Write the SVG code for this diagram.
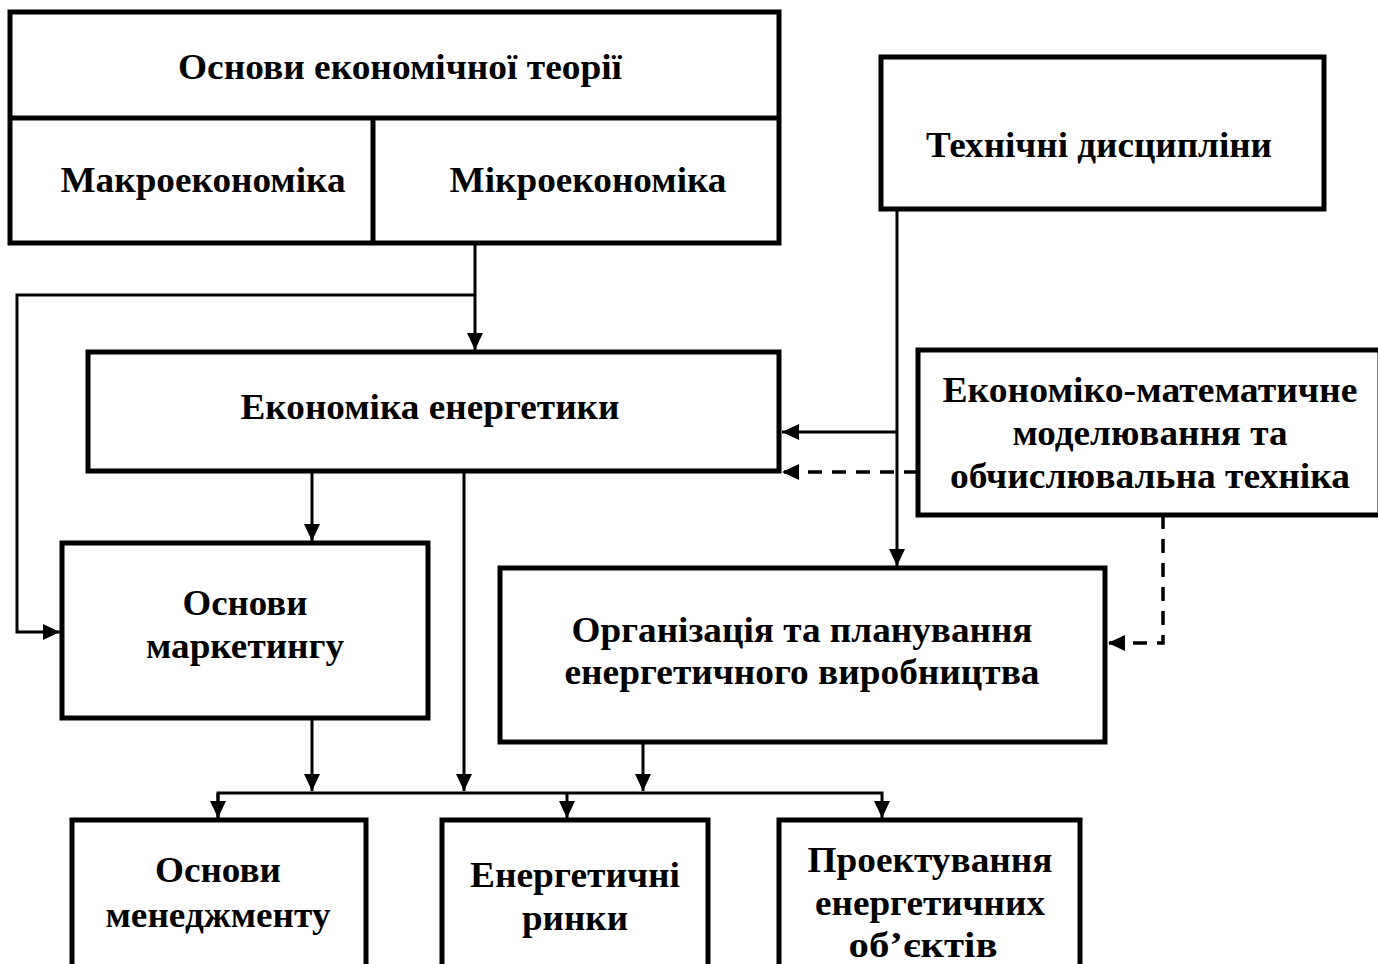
<svg xmlns="http://www.w3.org/2000/svg" width="1378" height="964" viewBox="0 0 1378 964">
<style>
.box{fill:#fff;stroke:#000;stroke-width:5}
.t{font-family:"Liberation Serif","Times New Roman",serif;font-weight:bold;font-size:36px;fill:#000;text-anchor:middle}
.c{fill:none;stroke:#000;stroke-width:3}
.d{fill:none;stroke:#000;stroke-width:3.5;stroke-dasharray:14 10}
</style>
<defs>
<marker id="a" markerUnits="userSpaceOnUse" markerWidth="18" markerHeight="16" refX="17" refY="8" orient="auto">
<path d="M0,0 L17,8 L0,16 z" fill="#000"/>
</marker>
</defs>
<rect width="1378" height="964" fill="#fff"/>
<g id="connectors">
<path class="c" d="M475,243 V350" marker-end="url(#a)"/>
<path class="c" d="M475,295 H17 V632 H60" marker-end="url(#a)"/>
<path class="c" d="M897,209 V566" marker-end="url(#a)"/>
<path class="c" d="M897,432 H782" marker-end="url(#a)"/>
<path class="d" d="M918,472 H782" marker-end="url(#a)"/>
<path class="d" d="M1163,515 V643 H1108" marker-end="url(#a)"/>
<path class="c" d="M312,471 V541" marker-end="url(#a)"/>
<path class="c" d="M464,471 V791" marker-end="url(#a)"/>
<path class="c" d="M312,718 V791" marker-end="url(#a)"/>
<path class="c" d="M643,742 V791" marker-end="url(#a)"/>
<path class="c" d="M218,818 V793 H882 V818" marker-end="url(#a)"/>
<path class="c" d="M218,793 V818" marker-end="url(#a)"/>
<path class="c" d="M567,793 V818" marker-end="url(#a)"/>
</g>
<g id="economic-theory">
<rect class="box" x="10" y="12" width="769" height="231"/>
<line x1="10" y1="118" x2="779" y2="118" stroke="#000" stroke-width="5"/>
<line x1="373" y1="118" x2="373" y2="243" stroke="#000" stroke-width="5"/>
<text class="t" x="400" y="79" textLength="444" lengthAdjust="spacingAndGlyphs">Основи економічної теорії</text>
</g>
<g id="macro"><text class="t" x="203" y="192" textLength="285" lengthAdjust="spacingAndGlyphs">Макроекономіка</text></g>
<g id="micro"><text class="t" x="588" y="192" textLength="277" lengthAdjust="spacingAndGlyphs">Мікроекономіка</text></g>
<g id="tech">
<rect class="box" x="881" y="57" width="443" height="152"/>
<text class="t" x="1099" y="157" textLength="346" lengthAdjust="spacingAndGlyphs">Технічні дисципліни</text>
</g>
<g id="energy-economics">
<rect class="box" x="88" y="352" width="691" height="119"/>
<text class="t" x="430" y="419" textLength="379" lengthAdjust="spacingAndGlyphs">Економіка енергетики</text>
</g>
<g id="math-modeling">
<rect class="box" x="918" y="350" width="462" height="165"/>
<text class="t" x="1150" y="402" textLength="415" lengthAdjust="spacingAndGlyphs">Економіко-математичне</text>
<text class="t" x="1150" y="445" textLength="275" lengthAdjust="spacingAndGlyphs">моделювання та</text>
<text class="t" x="1150" y="488" textLength="400" lengthAdjust="spacingAndGlyphs">обчислювальна техніка</text>
</g>
<g id="marketing">
<rect class="box" x="62" y="543" width="366" height="175"/>
<text class="t" x="245" y="615" textLength="125" lengthAdjust="spacingAndGlyphs">Основи</text>
<text class="t" x="245" y="658" textLength="198" lengthAdjust="spacingAndGlyphs">маркетингу</text>
</g>
<g id="organization">
<rect class="box" x="500" y="568" width="605" height="174"/>
<text class="t" x="802" y="642" textLength="461" lengthAdjust="spacingAndGlyphs">Організація та планування</text>
<text class="t" x="802" y="684" textLength="475" lengthAdjust="spacingAndGlyphs">енергетичного виробництва</text>
</g>
<g id="management">
<rect class="box" x="72" y="820" width="294" height="160"/>
<text class="t" x="218" y="882" textLength="126" lengthAdjust="spacingAndGlyphs">Основи</text>
<text class="t" x="218" y="927" textLength="225" lengthAdjust="spacingAndGlyphs">менеджменту</text>
</g>
<g id="markets">
<rect class="box" x="442" y="820" width="266" height="160"/>
<text class="t" x="575" y="887" textLength="210" lengthAdjust="spacingAndGlyphs">Енергетичні</text>
<text class="t" x="575" y="930" textLength="106" lengthAdjust="spacingAndGlyphs">ринки</text>
</g>
<g id="design">
<rect class="box" x="779" y="820" width="301" height="160"/>
<text class="t" x="930" y="872" textLength="245" lengthAdjust="spacingAndGlyphs">Проектування</text>
<text class="t" x="930" y="915" textLength="230" lengthAdjust="spacingAndGlyphs">енергетичних</text>
<text class="t" x="923" y="957" textLength="149" lengthAdjust="spacingAndGlyphs">об’єктів</text>
</g>
</svg>
